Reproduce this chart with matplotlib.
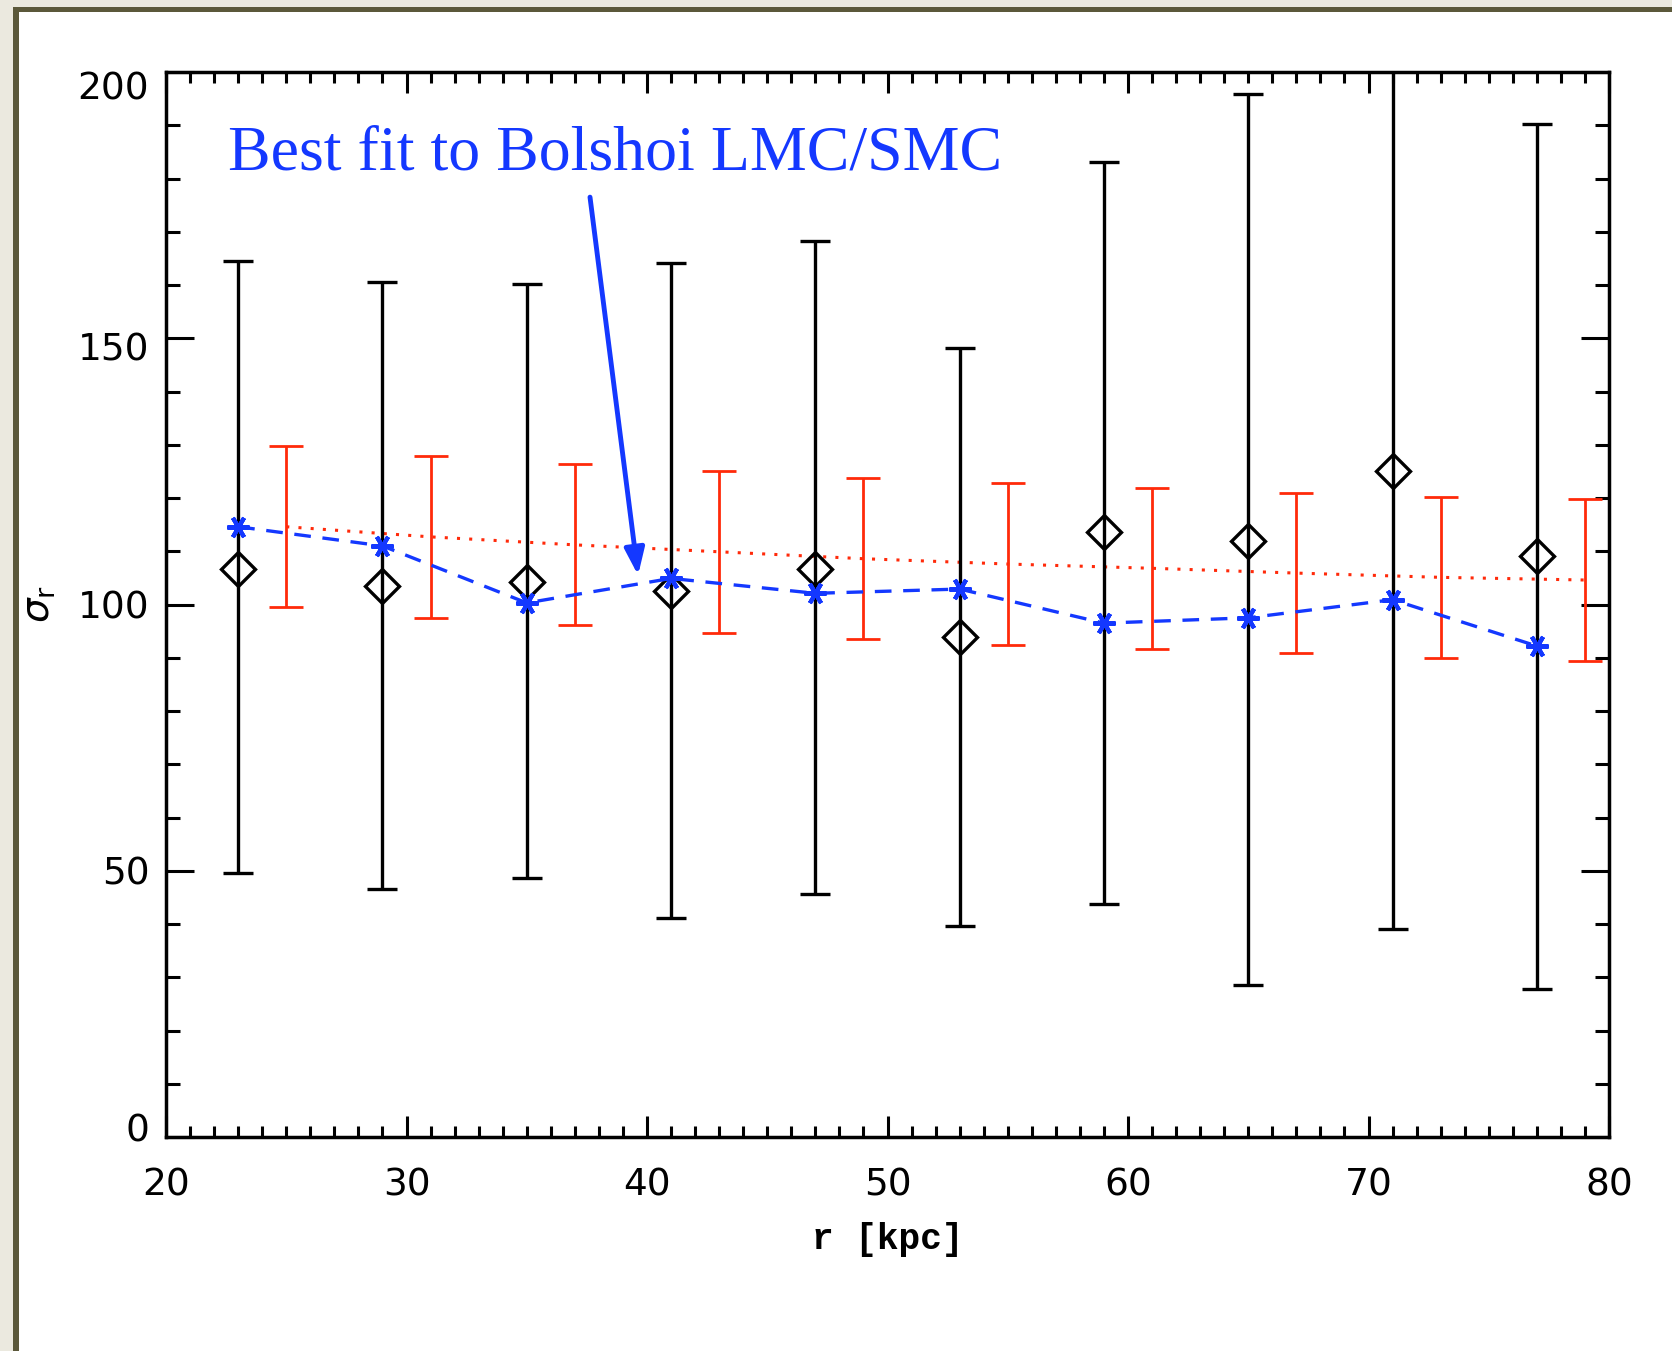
import numpy as np
import matplotlib
matplotlib.use("Agg")
from matplotlib import pyplot as plt
from matplotlib.patches import Rectangle
from matplotlib.ticker import MultipleLocator
from matplotlib.transforms import ScaledTranslation

# data
r_obs = [23, 29, 35, 41, 47, 53, 59, 65, 71, 77]
sig_obs = [106.7, 103.5, 104.3, 102.5, 106.7, 93.9, 113.6, 112.0, 125.1, 109.2]
err_hi = [164.6, 160.5, 160.1, 164.1, 168.2, 148.2, 183.1, 195.8, 211.0, 190.3]
err_lo = [49.5, 46.5, 48.7, 41.1, 45.7, 39.7, 43.7, 28.6, 39.1, 27.8]

sig_bolshoi = [114.6, 111.0, 100.3, 104.9, 102.1, 102.9, 96.5, 97.5, 100.9, 92.2]

r_fit = [25, 31, 37, 43, 49, 55, 61, 67, 73, 79]
sig_fit = [114.6, 112.7, 111.2, 109.9, 108.6, 107.6, 106.8, 105.9, 105.1, 104.6]
fit_err = [15.1, 15.2, 15.1, 15.2, 15.1, 15.2, 15.1, 15.1, 15.1, 15.2]

blue = '#1438ff'
red = '#ff2a0a'

fig = plt.figure(figsize=(16.72, 13.51), dpi=100)
fig.patch.set_facecolor('#ebe9df')
fig.patches.append(Rectangle((13/1672, 0), 1, 1 - 7/1351, transform=fig.transFigure,
                             facecolor='#5b583a', edgecolor='none', zorder=-10))
fig.patches.append(Rectangle((19/1672, 0), 1, 1 - 12/1351, transform=fig.transFigure,
                             facecolor='white', edgecolor='none', zorder=-9))

ax = fig.add_axes([166/1672, 1 - 1137/1351, (1609-166)/1672, (1137-72)/1351])
ax.set_facecolor('none')

yerr = [np.array(sig_obs) - np.array(err_lo), np.array(err_hi) - np.array(sig_obs)]
ax.errorbar(r_obs, sig_obs, yerr=yerr, fmt='D', ms=17, mfc='none', mec='black', mew=2.4,
            ecolor='black', elinewidth=2.4, capsize=11, capthick=2.4, zorder=3)

ax.errorbar(r_fit, sig_fit, yerr=fit_err, fmt='none', ecolor=red, elinewidth=2,
            capsize=12, capthick=2, zorder=2)
ax.plot(r_fit, sig_fit, color=red, ls=(0, (1, 3)), lw=2.2, zorder=2)

ax.plot(r_obs, sig_bolshoi, color=blue, ls=(0, (5, 3.5)), lw=2.4,
        marker=(6, 2, 90), ms=16, mew=3, zorder=4)

ax.annotate('', xy=(39.63, 105.5), xytext=(37.63, 176.5),
            arrowprops=dict(arrowstyle='-|>,head_length=1.6,head_width=0.6',
                            color=blue, lw=3.5, shrinkA=0, shrinkB=0))
ax.text(22.58, 181.6, 'Best fit to Bolshoi LMC/SMC', color=blue, fontsize=46,
        family='Liberation Serif', va='baseline', ha='left')

ax.set_xlim(20, 80)
ax.set_ylim(0, 200)
ax.xaxis.set_major_locator(MultipleLocator(10))
ax.xaxis.set_minor_locator(MultipleLocator(1))
ax.yaxis.set_major_locator(MultipleLocator(50))
ax.yaxis.set_minor_locator(MultipleLocator(10))
ax.tick_params(which='both', direction='in', top=True, right=True, width=2.2,
               labelsize=27)
ax.tick_params(axis='x', which='major', length=15, pad=22)
ax.tick_params(axis='x', which='minor', length=8)
ax.tick_params(axis='y', which='major', length=20, pad=12)
ax.tick_params(axis='y', which='minor', length=10)
for s in ax.spines.values():
    s.set_linewidth(2.5)

# IDL-style: y labels nudged toward the inside of the axis range (points)
y_shift = {'0': 7, '50': 0, '100': 0, '150': -6, '200': -10}
fig.canvas.draw()
for lbl in ax.get_yticklabels():
    dy = y_shift.get(lbl.get_text(), 0)
    lbl.set_transform(lbl.get_transform() + ScaledTranslation(0, dy/72, fig.dpi_scale_trans))

ax.set_xlabel('r [kpc]', family='Liberation Mono', fontweight='bold', fontsize=26,
              va='top')
ax.xaxis.set_label_coords(0.5, -0.08)
ax.set_ylabel(r'$\sigma_\mathrm{r}$', fontsize=28, va='center')
ax.yaxis.set_label_coords(-0.088, 0.5)

fig.savefig('out.png', dpi=100, facecolor=fig.get_facecolor())
